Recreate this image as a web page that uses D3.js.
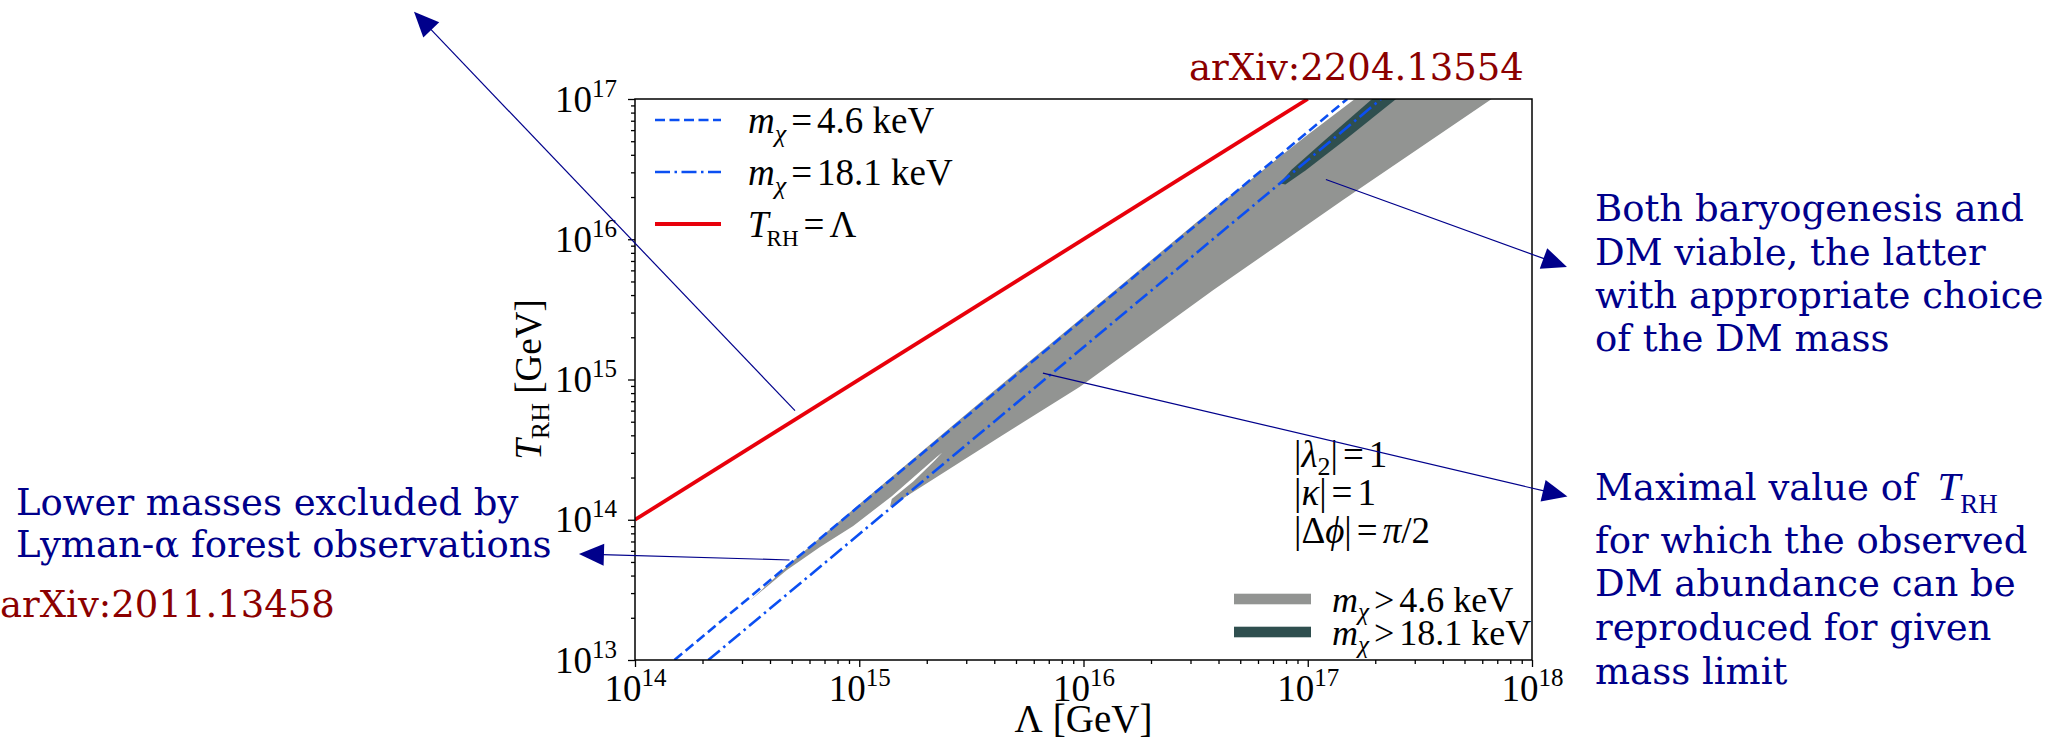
<!DOCTYPE html>
<html><head><meta charset="utf-8">
<script src="https://cdn.jsdelivr.net/npm/d3@7"></script>
<style>html,body{margin:0;padding:0;background:#fff;overflow:hidden}</style>
</head><body>
<svg id="chart" width="2061" height="739"></svg>
<script>
// ---------------- DATA (log10 values) ----------------
const xTickExps = [14, 15, 16, 17, 18];          // Λ [GeV] decades
const yTickExps = [13, 14, 15, 16, 17];          // T_RH [GeV] decades
const minorMultipliers = [2, 3, 4, 5, 6, 7, 8, 9];

// lines: [log10 Λ, log10 T_RH]
const lineTRHeqLambda = [[14, 14], [17, 17]];
const lineM46 = [[14.176, 13], [17.176, 17]];
const lineM181 = [[14.327, 13], [17.327, 17]];

// region m_chi > 4.6 keV (grey)
const bandM46 = [
  [14.513, 13.423], [14.70, 13.70], [15.0, 14.11], [15.5, 14.785], [16.0, 15.45],
  [16.5, 16.115], [17.0, 16.745], [17.21, 17.0],
  [17.82, 17.0],
  [17.157, 16.28], [16.579, 15.638], [15.984, 14.949], [15.628, 14.592], [15.137, 14.093],
  [15.145, 14.148], [15.241, 14.272], [15.338, 14.425], [15.37, 14.48],
  [15.345, 14.448], [15.145, 14.168], [14.973, 13.955], [14.825, 13.805], [14.676, 13.64]
];
// region m_chi > 18.1 keV (dark)
const bandM181 = [
  [16.875, 16.40], [16.93, 16.50], [17.077, 16.708], [17.287, 17.0],
  [17.394, 17.0], [17.166, 16.708], [16.99, 16.49], [16.90, 16.39]
];

// annotation arrows: [start, tip] in [log10 Λ, log10 T]
const arrowLyman = [[14.689, 13.713], [13.750, 13.756]];
const arrowUp = [[14.7135, 14.778], [13.0145, 17.622]];
const arrowBoth = [[17.081, 16.426], [18.156, 15.802]];
const arrowMax = [[15.819, 15.046], [18.158, 14.166]];

const paramLines = [
  [{t:"|"},{t:"λ",i:1},{t:"2",sub:1},{t:"|"},{t:"=",dx:5},{t:"1",dx:5}],
  [{t:"|"},{t:"κ",i:1},{t:"|"},{t:"=",dx:5},{t:"1",dx:5}],
  [{t:"|Δ"},{t:"ϕ",i:1},{t:"|"},{t:"=",dx:5},{t:"π",i:1,dx:5},{t:"/2"}]
];
const legendTop = [
  [{t:"m",i:1},{t:"χ",i:1,sub:1},{t:"=",dx:5},{t:"4.6 keV",dx:5}],
  [{t:"m",i:1},{t:"χ",i:1,sub:1},{t:"=",dx:5},{t:"18.1 keV",dx:5}],
  [{t:"T",i:1},{t:"RH",sub:1,dx:-2},{t:"=",dx:5},{t:"Λ",dx:5}]
];
const legendBottom = [
  [{t:"m",i:1},{t:"χ",i:1,sub:1},{t:">",dx:5},{t:"4.6 keV",dx:5}],
  [{t:"m",i:1},{t:"χ",i:1,sub:1},{t:">",dx:5},{t:"18.1 keV",dx:5}]
];
const textBoth = ["Both baryogenesis and", "DM viable, the latter", "with appropriate choice", "of the DM mass"];
const textMax = ["for which the observed", "DM abundance can be", "reproduced for given", "mass limit"];
const textLyman = ["Lower masses excluded by", "Lyman-α forest observations"];
const refTop = "arXiv:2204.13554";
const refLeft = "arXiv:2011.13458";

// ---------------- LAYOUT / STYLE ----------------
const P = {left: 635, right: 1532, top: 99, bottom: 660};
const MATH = "'Liberation Serif','Times New Roman',serif";
const ANN = "'DejaVu Serif',serif";
const BLUE = "#0b4ff2", RED = "#e8000b", GREY = "#929492", DARK = "#2f4f4f", NAVY = "#00008b", DRED = "#8b0000";

const svg = d3.select("#chart");
const x = d3.scaleLog().domain([1e14, 1e18]).range([P.left, P.right]);
const y = d3.scaleLog().domain([1e13, 1e17]).range([P.bottom, P.top]);
const pw = v => Math.pow(10, v);
const line = d3.line().x(d => x(pw(d[0]))).y(d => y(pw(d[1])));

svg.append("defs").append("clipPath").attr("id", "clip")
  .append("rect").attr("x", P.left).attr("y", P.top)
  .attr("width", P.right - P.left).attr("height", P.bottom - P.top);

const plot = svg.append("g").attr("clip-path", "url(#clip)");
plot.append("path").attr("d", line(bandM46) + "Z").attr("fill", GREY);
plot.append("path").attr("d", line(bandM181) + "Z").attr("fill", DARK);
plot.append("path").attr("d", line(lineM46)).attr("stroke", BLUE).attr("stroke-width", 2.6)
  .attr("fill", "none").attr("stroke-dasharray", "10,4.5");
plot.append("path").attr("d", line(lineM181)).attr("stroke", BLUE).attr("stroke-width", 2.6)
  .attr("fill", "none").attr("stroke-dasharray", "15,4.5,2.5,4.5");
plot.append("path").attr("d", line(lineTRHeqLambda)).attr("stroke", RED).attr("stroke-width", 3.8)
  .attr("fill", "none");

// rich text helper
function rich(sel, parts, size, subSize, subShift) {
  let cur = 0;
  parts.forEach(p => {
    const ts = sel.append("tspan").text(p.t);
    const target = p.sub ? subShift : (p.sup ? -subShift : 0);
    if (target - cur) ts.attr("dy", target - cur);
    cur = target;
    if (p.dx) ts.attr("dx", p.dx);
    if (p.i) ts.attr("font-style", "italic");
    ts.attr("font-size", (p.sub || p.sup) ? subSize : size);
  });
}

// axes
const xMinor = [], yMinor = [];
xTickExps.slice(0, -1).forEach(e => minorMultipliers.forEach(m => xMinor.push(m * pw(e))));
yTickExps.slice(0, -1).forEach(e => minorMultipliers.forEach(m => yMinor.push(m * pw(e))));

function styleAxis(g) {
  g.select(".domain").remove();
  g.selectAll("line").attr("stroke", "#000").attr("stroke-width", 1.3);
}
svg.append("g").attr("transform", `translate(0,${P.bottom})`)
  .call(d3.axisBottom(x).tickValues(xMinor).tickSize(4).tickFormat("")).call(styleAxis);
svg.append("g").attr("transform", `translate(${P.left},0)`)
  .call(d3.axisLeft(y).tickValues(yMinor).tickSize(4).tickFormat("")).call(styleAxis);

const gx = svg.append("g").attr("transform", `translate(0,${P.bottom})`)
  .call(d3.axisBottom(x).tickValues(xTickExps.map(pw)).tickSize(7).tickFormat("")).call(styleAxis);
gx.selectAll(".tick text").each(function(d) {
  const t = d3.select(this).attr("y", 41).attr("dy", null).attr("fill", "#000")
    .attr("font-family", MATH).attr("text-anchor", "middle");
  t.append("tspan").attr("font-size", 37).text("10");
  t.append("tspan").attr("font-size", 25).attr("dy", -15).text(Math.round(Math.log10(d)));
});
const gy = svg.append("g").attr("transform", `translate(${P.left},0)`)
  .call(d3.axisLeft(y).tickValues(yTickExps.map(pw)).tickSize(7).tickFormat("")).call(styleAxis);
gy.selectAll(".tick text").each(function(d) {
  const t = d3.select(this).attr("x", -18).attr("dy", 12).attr("fill", "#000")
    .attr("font-family", MATH).attr("text-anchor", "end");
  t.append("tspan").attr("font-size", 37).text("10");
  t.append("tspan").attr("font-size", 25).attr("dy", -15).text(Math.round(Math.log10(d)));
});

// frame
svg.append("rect").attr("x", P.left).attr("y", P.top).attr("width", P.right - P.left)
  .attr("height", P.bottom - P.top).attr("fill", "none").attr("stroke", "#000").attr("stroke-width", 1.5);

// axis labels
const xl = svg.append("text").attr("x", (P.left + P.right) / 2).attr("y", 732)
  .attr("text-anchor", "middle").attr("font-family", MATH).attr("fill", "#000");
rich(xl, [{t:"Λ"},{t:"[GeV]",dx:10}], 39, 27, 8);
const yl = svg.append("text").attr("transform", `translate(541,${(P.top + P.bottom) / 2}) rotate(-90)`)
  .attr("text-anchor", "middle").attr("font-family", MATH).attr("fill", "#000");
rich(yl, [{t:"T",i:1},{t:"RH",sub:1},{t:" [GeV]",dx:0}], 37, 26, 8);

// top-left legend
const legY = [120, 172, 224];
const legStyles = [
  {c: BLUE, w: 2.6, da: "10,4.5"},
  {c: BLUE, w: 2.6, da: "15,4.5,2.5,4.5"},
  {c: RED, w: 3.8, da: null}
];
legendTop.forEach((parts, i) => {
  svg.append("line").attr("x1", 655).attr("x2", 721).attr("y1", legY[i]).attr("y2", legY[i])
    .attr("stroke", legStyles[i].c).attr("stroke-width", legStyles[i].w)
    .attr("stroke-dasharray", legStyles[i].da);
  const t = svg.append("text").attr("x", 748).attr("y", legY[i] + 12.5)
    .attr("font-family", MATH).attr("fill", "#000");
  rich(t, parts, 37, i === 2 ? 23 : 26, 9);
});

// parameter text
[467, 505, 543].forEach((by, i) => {
  const t = svg.append("text").attr("x", 1294).attr("y", by).attr("font-family", MATH).attr("fill", "#000");
  rich(t, paramLines[i], 37, 26, 8);
});

// bottom-right legend
[[GREY, 599], [DARK, 632]].forEach(([c, cy], i) => {
  svg.append("rect").attr("x", 1234).attr("y", cy - 5.3).attr("width", 77).attr("height", 10.6).attr("fill", c);
  const t = svg.append("text").attr("x", 1332).attr("y", cy + 12.5).attr("font-family", MATH).attr("fill", "#000");
  rich(t, legendBottom[i], 36, 25, 8);
});

// arrows
function arrow(a) {
  const x1 = x(pw(a[0][0])), y1 = y(pw(a[0][1])), x2 = x(pw(a[1][0])), y2 = y(pw(a[1][1]));
  const dx = x2 - x1, dy = y2 - y1, L = Math.hypot(dx, dy), ux = dx / L, uy = dy / L;
  const hl = 25, hw = 11;
  const bx = x2 - ux * hl, by = y2 - uy * hl;
  svg.append("line").attr("x1", x1).attr("y1", y1).attr("x2", bx + ux * 2).attr("y2", by + uy * 2)
    .attr("stroke", NAVY).attr("stroke-width", 1.2);
  svg.append("path").attr("d", `M${x2},${y2}L${bx - uy * hw},${by + ux * hw}L${bx + uy * hw},${by - ux * hw}Z`)
    .attr("fill", NAVY);
}
[arrowLyman, arrowUp, arrowBoth, arrowMax].forEach(arrow);

// annotation texts
function annLines(lines, x0, ys, color) {
  lines.forEach((s, i) => svg.append("text").attr("x", x0).attr("y", ys[i]).attr("font-family", ANN)
    .attr("font-size", 37).attr("fill", color).text(s));
}
annLines([refTop], 1189, [80], DRED);
annLines([refLeft], 0, [617], DRED);
annLines(textLyman, 16, [515, 557], NAVY);
annLines(textBoth, 1595, [221, 264.5, 308, 351], NAVY);
const mx = svg.append("text").attr("x", 1595).attr("y", 500).attr("font-family", ANN)
  .attr("font-size", 37).attr("fill", NAVY);
mx.append("tspan").text("Maximal value of ");
mx.append("tspan").attr("font-family", MATH).attr("font-style", "italic").attr("font-size", 41).attr("dx", 9).text("T");
mx.append("tspan").attr("font-family", MATH).attr("font-size", 27).attr("dy", 13).text("RH");
annLines(textMax, 1595, [552.5, 596, 640, 683.5], NAVY);
</script>
</body></html>
